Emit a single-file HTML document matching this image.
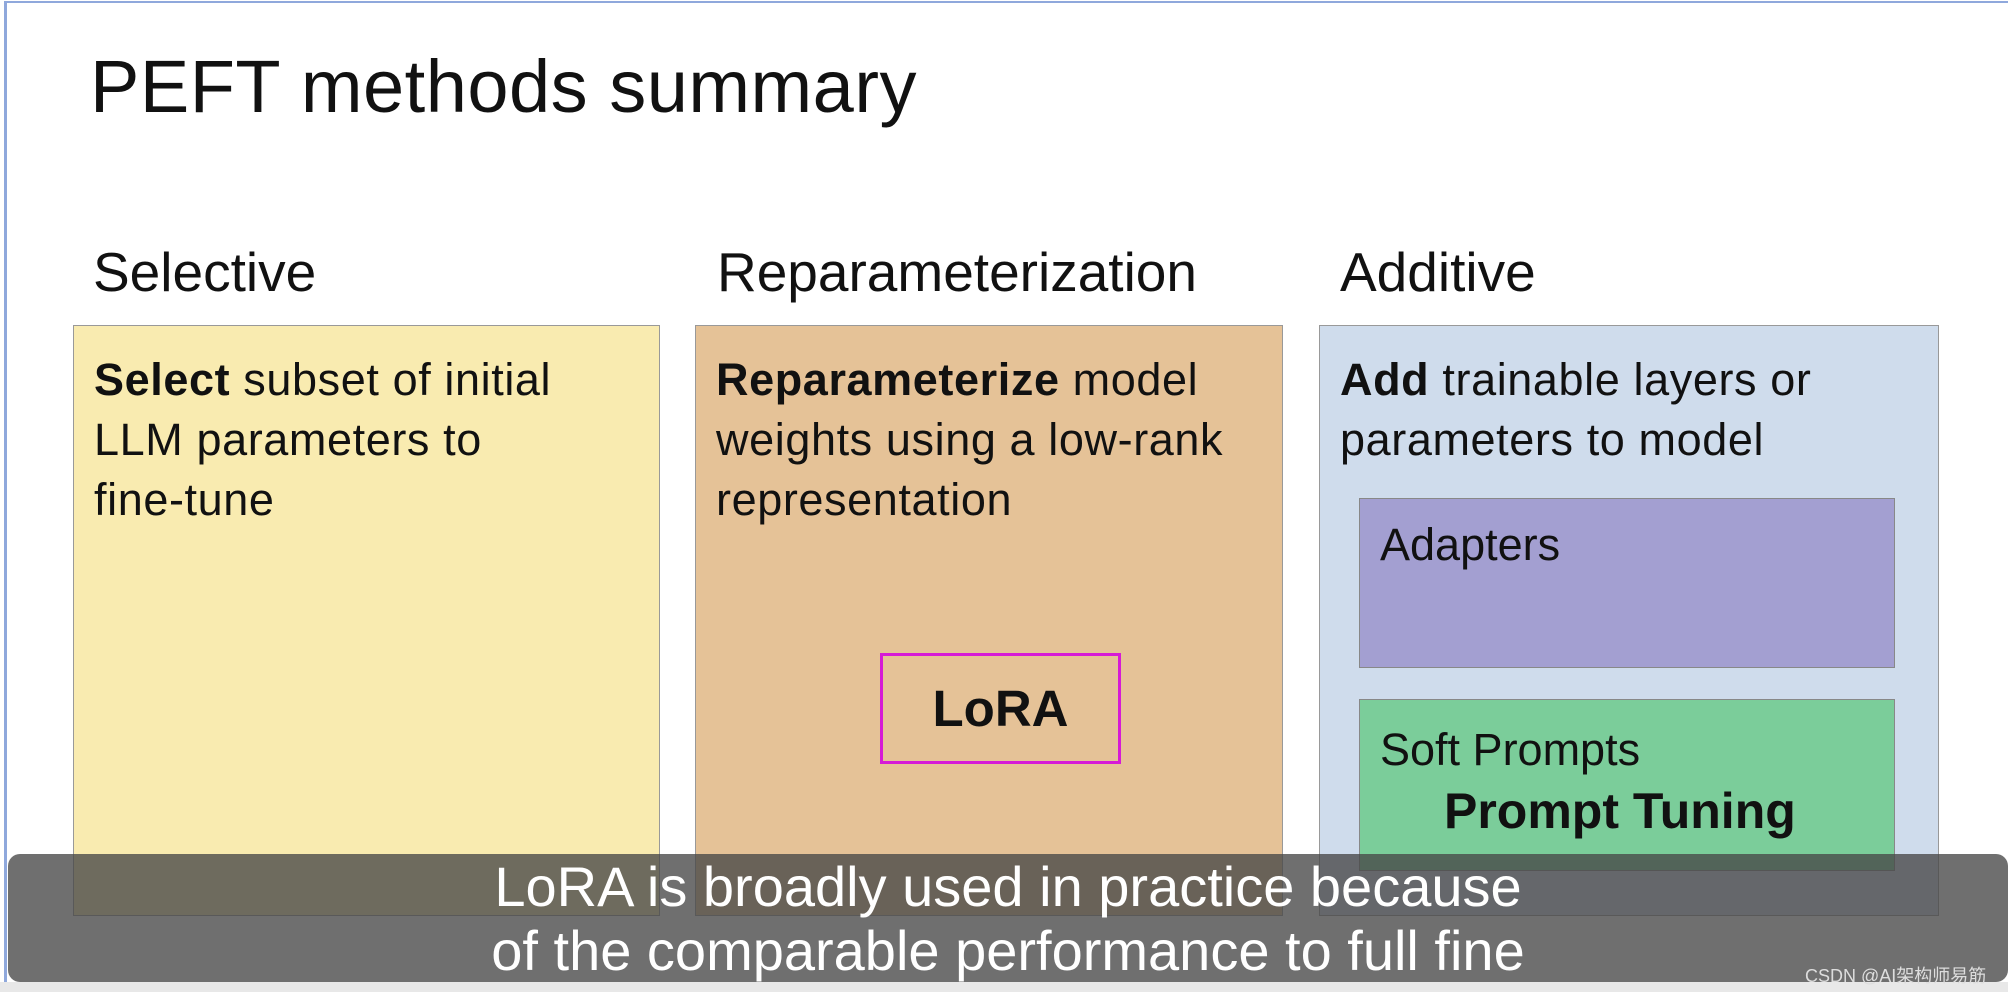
<!DOCTYPE html>
<html><head><meta charset="utf-8"><style>
*{margin:0;padding:0;box-sizing:border-box}
body{width:2008px;height:992px;background:#fff;position:relative;overflow:hidden;font-family:"Liberation Sans","Noto Sans CJK SC",sans-serif;color:#111}
.a{position:absolute}
.frame{left:4px;top:1px;width:2004px;height:990px;border-left:3px solid #8fa8dc;border-top:2px solid #8fa8dc}
.title{left:90px;top:44px;font-size:74px;letter-spacing:0.5px}
.h{top:240px;font-size:55px}
.box{top:325px;height:591px;border:1.5px solid #999}
.bt{font-size:45px;line-height:60px;left:20px;top:24px;position:absolute;letter-spacing:0.6px}
</style></head><body>
<div class="a frame"></div>
<div class="a title">PEFT methods summary</div>
<div class="a h" style="left:93px">Selective</div>
<div class="a h" style="left:717px">Reparameterization</div>
<div class="a h" style="left:1340px">Additive</div>
<div class="a box" style="left:73px;width:587px;background:#f9ebb0"><div class="bt"><b>Select</b> subset of initial<br>LLM parameters to<br>fine-tune</div></div>
<div class="a box" style="left:695px;width:588px;background:#e5c297"><div class="bt"><b>Reparameterize</b> model<br>weights using a low-rank<br>representation</div></div>
<div class="a box" style="left:1319px;width:620px;background:#cfdcec"><div class="bt"><b>Add</b> trainable layers or<br>parameters to model</div></div>
<div class="a" style="left:880px;top:653px;width:241px;height:111px;border:3px solid #d61ad6;font-weight:bold;font-size:51px;text-align:center;line-height:105px">LoRA</div>
<div class="a" style="left:1359px;top:498px;width:536px;height:170px;background:#a39fd1;border:1.5px solid #888;font-size:45px;padding:20px 0 0 20px">Adapters</div>
<div class="a" style="left:1359px;top:699px;width:536px;height:172px;background:#7bcd9a;border:1.5px solid #888;font-size:45px;padding:24px 0 0 20px">Soft Prompts<div style="font-weight:bold;font-size:50px;margin:6px 0 0 64px">Prompt Tuning</div></div>
<div class="a" style="left:0;top:982px;width:2008px;height:10px;background:#e8e8e8"></div>
<div class="a" style="left:8px;top:854px;width:2000px;height:128px;background:rgba(70,70,70,0.78);border-radius:12px"></div>
<div class="a" style="left:8px;top:855px;width:2000px;text-align:center;color:#fff;font-size:56px;line-height:64px">LoRA is broadly used in practice because<br>of the comparable performance to full fine</div>
<div class="a" style="left:1805px;top:962px;color:#ddd;font-size:18px">CSDN @AI架构师易筋</div>
</body></html>
